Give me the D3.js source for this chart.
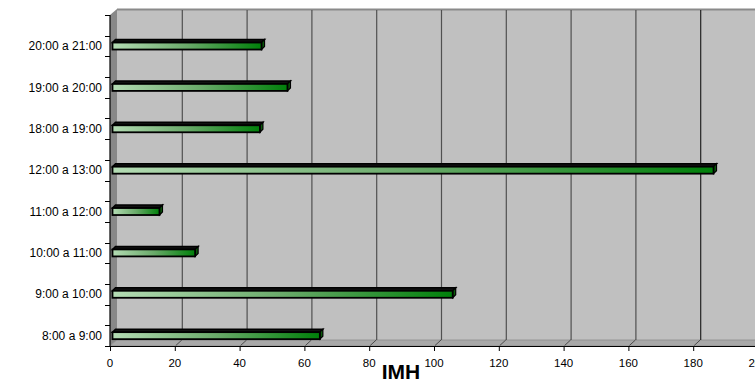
<!DOCTYPE html>
<html><head><meta charset="utf-8">
<script src="https://cdn.jsdelivr.net/npm/d3@7/dist/d3.min.js"></script>
<style>body{margin:0;background:#fff}svg{display:block}text{font-family:"Liberation Sans",Arial,sans-serif}</style>
</head><body><svg id="c" width="755" height="383"></svg>
<script>
const categories = ["8:00 a 9:00","9:00 a 10:00","10:00 a 11:00","11:00 a 12:00","12:00 a 13:00","18:00 a 19:00","19:00 a 20:00","20:00 a 21:00"];
const values = [64, 105, 25.5, 14.5, 185.5, 45.5, 54, 46];
const xTicks = [0,20,40,60,80,100,120,140,160,180,200];
const axisTitle = "IMH";

const svg = d3.select("#c");
const W = 755;
const x = d3.scaleLinear().domain([0,200]).range([110,758]);
const y = d3.scaleBand().domain(categories).range([346,15]);
const dx = 7, dy = -6;
const yTop = 15, yBot = 346;
const bw = y.bandwidth();
const yc = c => y(c) + bw*0.75;

const defs = svg.append("defs");
const g = defs.append("linearGradient").attr("id","grad").attr("x1","0").attr("x2","1").attr("y1","0").attr("y2","0");
g.append("stop").attr("offset","0").attr("stop-color","#b4dcb4");
g.append("stop").attr("offset","0.5").attr("stop-color","#6aaa6a");
g.append("stop").attr("offset","1").attr("stop-color","#00800a");

svg.append("rect").attr("x",x(0)+dx).attr("y",yTop+dy).attr("width",x(200)-x(0)).attr("height",yBot-yTop)
  .attr("fill","#c0c0c0");
svg.append("line").attr("x1",x(0)+dx).attr("x2",W).attr("y1",yTop+dy+0.5).attr("y2",yTop+dy+0.5)
  .attr("stroke","#8a8a8a").attr("stroke-width",2);
svg.append("polygon").attr("points",[[x(0),yTop],[x(0)+dx,yTop+dy],[x(0)+dx,yBot+dy],[x(0),yBot]].join(" "))
  .attr("fill","#888");
svg.append("polygon").attr("points",[[x(0),yBot],[x(0)+dx,yBot+dy],[x(200)+dx,yBot+dy],[x(200),yBot]].join(" "))
  .attr("fill","#a8a8a8").attr("stroke","#8a8a8a").attr("stroke-width",0.8);
svg.selectAll(".grid").data(xTicks.slice(1)).join("line")
  .attr("x1",d=>x(d)+dx+0.5).attr("x2",d=>x(d)+dx+0.5).attr("y1",yTop+dy+1).attr("y2",yBot+dy)
  .attr("stroke",(d)=>d===180?"#222":"#505050").attr("stroke-width",1.2);
svg.selectAll(".fgrid").data(xTicks.slice(1)).join("line")
  .attr("x1",d=>x(d)+1).attr("x2",d=>x(d)+dx).attr("y1",yBot-0.5).attr("y2",yBot+dy)
  .attr("stroke","#333").attr("stroke-width",0.8);

const bars = svg.selectAll(".bar").data(categories.map((c,i)=>({c,v:values[i]}))).join("g");
const x0 = x(0)+2.5, h = 3.5, d3x = 3, d3y = -3;
bars.append("polygon").attr("points",d=>{const xe=x(d.v)+2.5,cy=yc(d.c);
  return [[x0,cy-h],[x0+d3x,cy-h+d3y],[xe+d3x,cy-h+d3y],[xe,cy-h]].join(" ");})
  .attr("fill","#111").attr("stroke","#000").attr("stroke-width",1.5);
bars.append("polygon").attr("points",d=>{const xe=x(d.v)+2.5,cy=yc(d.c);
  return [[xe,cy-h],[xe+d3x,cy-h+d3y],[xe+d3x,cy+h+d3y],[xe,cy+h]].join(" ");})
  .attr("fill","#0a5a0a").attr("stroke","#000").attr("stroke-width",1.2);
bars.append("rect").attr("x",x0).attr("y",d=>yc(d.c)-h).attr("width",d=>x(d.v)+2.5-x0).attr("height",2*h)
  .attr("fill","url(#grad)").attr("stroke","#000").attr("stroke-width",1.8);

svg.append("line").attr("x1",x(0)).attr("x2",x(0)).attr("y1",yTop).attr("y2",yBot).attr("stroke","#000").attr("stroke-width",1.2);
const yTickPos = [];
categories.forEach(c=>{yTickPos.push(y(c)); yTickPos.push(y(c)+bw/2);});
yTickPos.push(yBot);
svg.selectAll(".yt").data(yTickPos).join("line")
  .attr("x1",x(0)-5).attr("x2",x(0)).attr("y1",d=>Math.round(d)+0.5).attr("y2",d=>Math.round(d)+0.5)
  .attr("stroke","#000").attr("stroke-width",1);
svg.selectAll(".yl").data(categories).join("text")
  .attr("x",102).attr("y",d=>yc(d)).attr("dy","0.35em").attr("text-anchor","end")
  .attr("font-size",12).attr("fill","#000").text(d=>d);

svg.append("line").attr("x1",x(0)).attr("x2",W).attr("y1",yBot+0.5).attr("y2",yBot+0.5).attr("stroke","#000").attr("stroke-width",1.2);
svg.selectAll(".xt").data(xTicks).join("line")
  .attr("x1",d=>x(d)+0.5).attr("x2",d=>x(d)+0.5).attr("y1",yBot).attr("y2",yBot+5).attr("stroke","#000");
svg.selectAll(".xl").data(xTicks).join("text")
  .attr("x",d=>x(d)).attr("y",367).attr("text-anchor","middle").attr("font-size",11.5).attr("fill","#000").text(d=>d);

svg.append("text").attr("x",401).attr("y",379).attr("text-anchor","middle").attr("font-size",21)
  .attr("font-weight","bold").attr("fill","#000").text(axisTitle);
</script></body></html>
